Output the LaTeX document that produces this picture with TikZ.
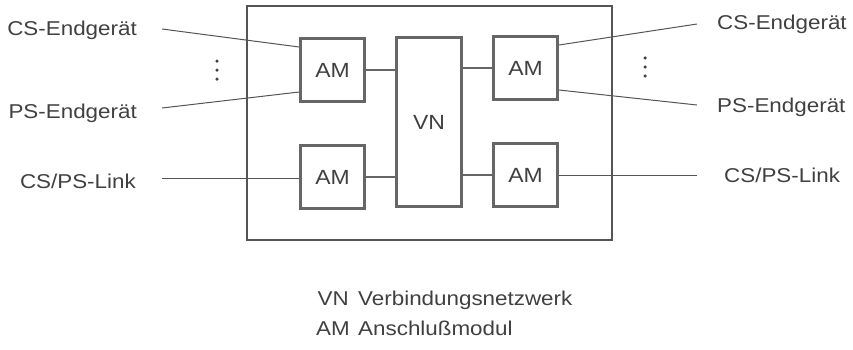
\documentclass[tikz,border=0pt]{standalone}
\usepackage{fontspec}
\setmainfont[FakeStretch=1.12]{Liberation Sans}
\begin{document}
\begin{tikzpicture}[x=1pt,y=-1pt,
  txt/.style={text=txtc,font=\fontsize{20}{22}\selectfont,inner sep=0pt},
  ambox/.style={draw=boxc,line width=2.8pt,minimum width=64pt,minimum height=63pt,inner sep=0pt,text=txtc,font=\fontsize{20.5}{22}\selectfont},
  thin/.style={draw=linec,line width=1pt},
  dotn/.style={circle,fill=txtc,inner sep=0pt,minimum size=3.5pt}]
\definecolor{txtc}{HTML}{404040}
\definecolor{boxc}{HTML}{666666}
\definecolor{linec}{HTML}{555555}
\useasboundingbox (0,0) rectangle (853,349);
% outer frame
\node[draw=linec,line width=1.3pt,minimum width=365pt,minimum height=234pt,inner sep=0pt] (frame) at (429.5,123) {};
% boxes
\node[ambox] (amlt) at (332.5,70) {AM};
\node[ambox] (amlb) at (332.5,177) {AM};
\node[ambox,minimum width=65pt,minimum height=169pt] (vn) at (429,122) {VN};
\node[ambox] (amrt) at (525.5,68) {AM};
\node[ambox] (amrb) at (525.5,175) {AM};
% internal connectors
\draw[draw=boxc,line width=2pt] (amlt.east) -- (amlt.east -| vn.west);
\draw[draw=boxc,line width=2pt] (amlb.east) -- (amlb.east -| vn.west);
\draw[draw=boxc,line width=2pt] (amrt.west -| vn.east) -- (amrt.west);
\draw[draw=boxc,line width=2pt] (amrb.west -| vn.east) -- (amrb.west);
% left labels
\node[txt,anchor=base east] (lcs) at (137,35) {CS-Endgerät};
\node[txt,anchor=base east] (lps) at (137,118) {PS-Endgerät};
\node[txt,anchor=base east] (llk) at (136,188) {CS/PS-Link};
\coordinate (lcse) at (162,29);
\coordinate (lpse) at (162,108);
\coordinate (llke) at (162,178);
\draw[thin] (lcse) -- ([yshift=23pt]amlt.west);
\draw[thin] (lpse) -- ([yshift=-22pt]amlt.west);
\draw[thin] (llke) -- (amlb.west |- llke);
% right labels
\node[txt,anchor=base west] (rcs) at (717,29) {CS-Endgerät};
\node[txt,anchor=base west] (rps) at (717,112) {PS-Endgerät};
\node[txt,anchor=base west] (rlk) at (724,182) {CS/PS-Link};
\coordinate (rcse) at (697,24);
\coordinate (rpse) at (697,105);
\coordinate (rlke) at (697,175);
\draw[thin] ([yshift=23pt]amrt.east) -- (rcse);
\draw[thin] ([yshift=-22pt]amrt.east) -- (rpse);
\draw[thin] (amrb.east |- rlke) -- (rlke);
% dots
\node[dotn] (ld1) at (217,61) {};
\node[dotn] (ld2) at (217,70) {};
\node[dotn] (ld3) at (217,79) {};
\node[dotn] (rd1) at (645,58) {};
\node[dotn] (rd2) at (645,67) {};
\node[dotn] (rd3) at (645,76) {};
% legend
\node[txt,anchor=base east] (kvn) at (349,305) {VN};
\node[txt,anchor=base west] (dvn) at (358,305) {Verbindungsnetzwerk};
\node[txt,anchor=base east] (kam) at (350,335) {AM};
\node[txt,anchor=base west] (dam) at (358,335) {Anschlußmodul};
\end{tikzpicture}
\end{document}
